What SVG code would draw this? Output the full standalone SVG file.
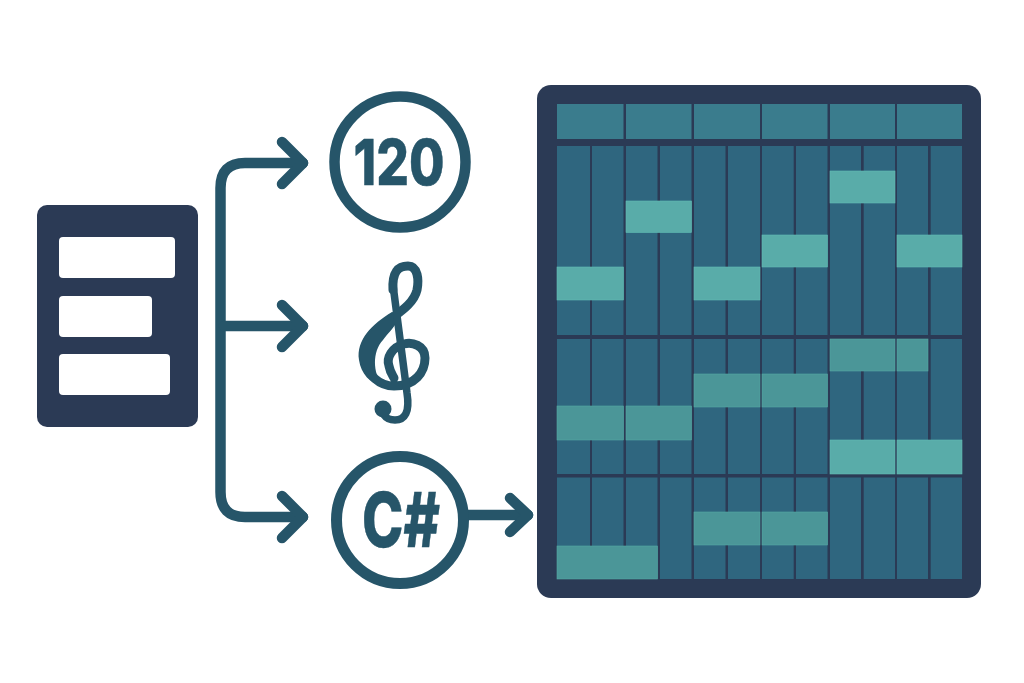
<svg xmlns="http://www.w3.org/2000/svg" width="1024" height="683" viewBox="0 0 1024 683">
<style>
.ln{fill:none;stroke:#265569;stroke-width:10.5;stroke-linecap:round;stroke-linejoin:round}
.panel{fill:#2b3a55}
.bar{fill:#ffffff}
.hd{fill:#3a7c8d}
.c{fill:#2f667f}
.n{fill:#59aca9;stroke:#62bcb5;stroke-width:.6}
.d{fill:#4b9698;stroke:#55a8a4;stroke-width:.6}
.t{fill:#265569;stroke:#265569;font-family:"Inter","Liberation Sans",sans-serif;font-weight:800;text-anchor:middle}
</style>
<rect width="1024" height="683" fill="#ffffff"/>
<g id="params">
<rect class="panel" x="37" y="205" width="161" height="222" rx="10"/>
<rect class="bar" x="59" y="237" width="116" height="41" rx="4"/>
<rect class="bar" x="59" y="296" width="93" height="41" rx="4"/>
<rect class="bar" x="59" y="354" width="111" height="41" rx="4"/>
</g>
<g id="connectors">
<path class="ln" d="M303 163H245Q220.500 163 220.500 188V492Q220.500 517 245 517H303"/>
<path class="ln" d="M282 142L303 163L282 184"/>
<path class="ln" d="M224 326H303"/>
<path class="ln" d="M282 305L303 326L282 347"/>
<path class="ln" d="M282 496L303 517L282 538"/>
<path class="ln" d="M467 515H528"/>
<path class="ln" d="M510 498L528 515L510 532"/>
</g>
<g id="tempo">
<circle cx="400" cy="162" r="65.500" fill="#ffffff" stroke="#265569" stroke-width="10.500"/>
<text class="t" x="399" y="185" font-size="63" stroke-width=".5" textLength="91" lengthAdjust="spacingAndGlyphs">120</text>
</g>
<g id="clef">
<path d="M393 290C392 272 398 266 408 266C418 266 419 280 417 290C414 303 400 312 392 318C375 330 362 340 365 358C367 376 380 386 394 386C415 386 425 372 425 358C425 345 412 342 404 344C392 347 386 358 389 366C390 372 393 376 394 378" fill="none" stroke="#265569" stroke-width="9" stroke-linecap="round"/>
<path d="M392 312C372 324 356 340 359 360C361 374 370 383 382 386C373 372 372 352 383 340C388 333 394 328 398 320Z" fill="#265569"/>
<path d="M393 285L407 393C410 412 405 420 395 420C390 420 386 418 384 415" fill="none" stroke="#265569" stroke-width="7.500" stroke-linecap="round"/>
<circle cx="383" cy="409" r="8.500" fill="#265569"/>
</g>
<g id="key">
<circle cx="400" cy="520" r="63.500" fill="#ffffff" stroke="#265569" stroke-width="11"/>
<text class="t" x="401" y="547" font-size="76" stroke-width=".5" textLength="78" lengthAdjust="spacingAndGlyphs">C#</text>
</g>
<g id="grid">
<rect class="panel" x="537" y="85" width="444" height="513" rx="14"/>
<rect class="hd" x="557" y="104" width="66.500" height="35"/>
<rect class="hd" x="626" y="104" width="65.500" height="35"/>
<rect class="hd" x="694" y="104" width="66" height="35"/>
<rect class="hd" x="762" y="104" width="65.500" height="35"/>
<rect class="hd" x="830" y="104" width="65" height="35"/>
<rect class="hd" x="897" y="104" width="65" height="35"/>

<rect class="c" x="557" y="146" width="33" height="189"/>
<rect class="c" x="592" y="146" width="31.500" height="189"/>
<rect class="c" x="626" y="146" width="31.500" height="189"/>
<rect class="c" x="660" y="146" width="31.500" height="189"/>
<rect class="c" x="694" y="146" width="31.500" height="189"/>
<rect class="c" x="728" y="146" width="32" height="189"/>
<rect class="c" x="762" y="146" width="31.700" height="189"/>
<rect class="c" x="796" y="146" width="31.500" height="189"/>
<rect class="c" x="830" y="146" width="31" height="189"/>
<rect class="c" x="863.700" y="146" width="31.300" height="189"/>
<rect class="c" x="897" y="146" width="31" height="189"/>
<rect class="c" x="930.700" y="146" width="31.300" height="189"/>

<rect class="c" x="557" y="339" width="33" height="135"/>
<rect class="c" x="592" y="339" width="31.500" height="135"/>
<rect class="c" x="626" y="339" width="31.500" height="135"/>
<rect class="c" x="660" y="339" width="31.500" height="135"/>
<rect class="c" x="694" y="339" width="31.500" height="135"/>
<rect class="c" x="728" y="339" width="32" height="135"/>
<rect class="c" x="762" y="339" width="31.700" height="135"/>
<rect class="c" x="796" y="339" width="31.500" height="135"/>
<rect class="c" x="830" y="339" width="31" height="135"/>
<rect class="c" x="863.700" y="339" width="31.300" height="135"/>
<rect class="c" x="897" y="339" width="31" height="135"/>
<rect class="c" x="930.700" y="339" width="31.300" height="135"/>

<rect class="c" x="557" y="477.500" width="33" height="101.500"/>
<rect class="c" x="592" y="477.500" width="31.500" height="101.500"/>
<rect class="c" x="626" y="477.500" width="31.500" height="101.500"/>
<rect class="c" x="660" y="477.500" width="31.500" height="101.500"/>
<rect class="c" x="694" y="477.500" width="31.500" height="101.500"/>
<rect class="c" x="728" y="477.500" width="32" height="101.500"/>
<rect class="c" x="762" y="477.500" width="31.700" height="101.500"/>
<rect class="c" x="796" y="477.500" width="31.500" height="101.500"/>
<rect class="c" x="830" y="477.500" width="31" height="101.500"/>
<rect class="c" x="863.700" y="477.500" width="31.300" height="101.500"/>
<rect class="c" x="897" y="477.500" width="31" height="101.500"/>
<rect class="c" x="930.700" y="477.500" width="31.300" height="101.500"/>

<rect class="n" x="557" y="267" width="66.500" height="33"/>
<rect class="n" x="626" y="201" width="65.500" height="31.500"/>
<rect class="n" x="694" y="267" width="66" height="33"/>
<rect class="n" x="762" y="235" width="65.500" height="32"/>
<rect class="n" x="830" y="171" width="65" height="32"/>
<rect class="n" x="897" y="235" width="65" height="32"/>

<rect class="d" x="557" y="406" width="66.500" height="34"/>
<rect class="d" x="626" y="406" width="65.500" height="34"/>
<rect class="d" x="694" y="374" width="66" height="33"/>
<rect class="d" x="762" y="374" width="65.500" height="33"/>
<rect class="d" x="830" y="339" width="65" height="32"/>
<rect class="d" x="897" y="339" width="31" height="32"/>
<rect class="n" x="830" y="440" width="65" height="34"/>
<rect class="n" x="897" y="440" width="65" height="34"/>

<rect class="d" x="557" y="546" width="100.500" height="33"/>
<rect class="d" x="694" y="512" width="66" height="33"/>
<rect class="d" x="762" y="512" width="65.500" height="33"/>
</g>
</svg>
